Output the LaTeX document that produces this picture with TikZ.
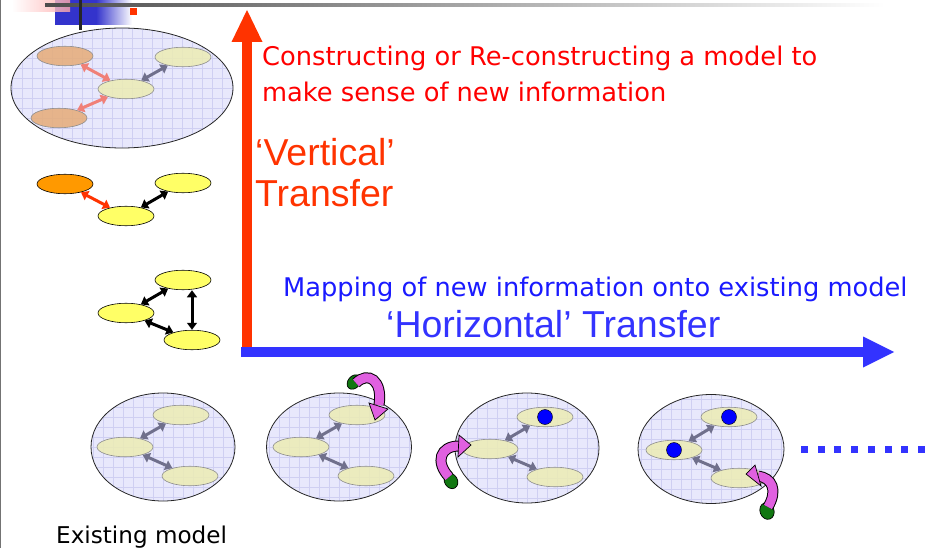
\documentclass[tikz,border=0pt]{standalone}
\usepackage{fontspec}
\usetikzlibrary{shapes.geometric,arrows.meta,calc}
\newfontfamily\tah{DejaVu Sans}
\newfontfamily\ari{Liberation Sans}
\definecolor{lav}{HTML}{E8E8FC}
\definecolor{gridc}{HTML}{CFCFF2}
\definecolor{yelf}{HTML}{ECECB4}
\definecolor{orf}{HTML}{E6AC78}
\definecolor{yel}{HTML}{FFFF66}
\definecolor{ora}{HTML}{FF9900}
\definecolor{redarr}{HTML}{FF3300}
\definecolor{bluearr}{HTML}{3333FF}
\definecolor{txtred}{HTML}{FF0000}
\definecolor{txtblue}{HTML}{1A1AFF}
\definecolor{inarr}{HTML}{70708C}
\definecolor{pinkarr}{HTML}{F08078}
\definecolor{mag}{HTML}{E060E0}
\definecolor{grn}{HTML}{117711}
\definecolor{decoblue}{HTML}{3333CC}
\tikzset{
  model/.style={ellipse, draw=black!85, line width=0.8pt, fill=lav, inner sep=0pt, outer sep=0pt,
    path picture={\draw[gridc, line width=0.6pt] ([shift={(-10pt,-10pt)}]path picture bounding box.south west) grid[step=10pt] ([shift={(10pt,10pt)}]path picture bounding box.north east);}},
  inell/.style={ellipse, draw=black!45, line width=0.6pt, fill=yelf, fill opacity=0.85, draw opacity=1, minimum width=56pt, minimum height=19.5pt, inner sep=0pt, outer sep=0pt},
  solell/.style={ellipse, draw=black, line width=0.6pt, minimum width=56pt, minimum height=19.5pt, inner sep=0pt, outer sep=0pt},
  dbl/.style={{Triangle[length=7pt,width=10pt]}-{Triangle[length=7pt,width=10pt]}, line width=3pt, shorten >=0.5pt, shorten <=0.5pt},
  dot/.style={circle, fill=blue, draw=black, line width=0.4pt, minimum size=15pt, inner sep=0pt},
  tahtext/.style={inner sep=0pt, anchor=base west, font=\tah\fontsize{25.7}{30}\selectfont},
  aritext/.style={inner sep=0pt, anchor=base west, font=\ari\fontsize{37.5}{42}\selectfont},
  band/.style={line width=11pt, draw=black},
  bandin/.style={line width=9pt, draw=mag},
  headsh/.style={fill=mag, draw=black, line width=0.7pt, line join=miter},
  tailsh/.style={fill=grn, draw=black, line width=0.7pt}
}
\begin{document}
\begin{tikzpicture}[x=1pt,y=-1pt]
\useasboundingbox (0,0) rectangle (934,548);
\fill[white] (0,0) rectangle (934,548);
% decoration top-left
\fill[decoblue] (55,0) rectangle (96,25);
\shade[left color=decoblue, right color=white] (96,0) rectangle (132,25);
\shade[left color=white, right color=red!35, opacity=0.8] (12,0) rectangle (70,12);
\shade[left color=black!70, right color=white] (45,3.5) rectangle (885,6.5);
\fill[black!85] (78.5,0) rectangle (81.5,30);
\fill[redarr] (130,8) rectangle (137,15);
\draw[black!55, line width=1pt] (0.5,0) -- (0.5,548);

% top-left model
\node[model, minimum width=222pt, minimum height=120pt] (m0) at (122,88) {};
\node[inell, fill=orf] (m0a) at (65,56) {};
\node[inell] (m0b) at (183,57) {};
\node[inell] (m0c) at (126,89) {};
\node[inell, fill=orf] (m0d) at (59,118) {};
\draw[dbl, pinkarr] (m0a) -- (m0c);
\draw[dbl, pinkarr] (m0d) -- (m0c);
\draw[dbl, inarr] (m0c) -- (m0b);

% middle solid group
\node[solell, fill=ora] (s1a) at (65,184) {};
\node[solell, fill=yel] (s1b) at (183,183) {};
\node[solell, fill=yel] (s1c) at (126,216) {};
\draw[dbl, redarr] (s1a) -- (s1c);
\draw[dbl, black] (s1c) -- (s1b);

% lower solid group
\node[solell, fill=yel] (s2a) at (183,280) {};
\node[solell, fill=yel] (s2b) at (126,313) {};
\node[solell, fill=yel] (s2c) at (192,340) {};
\draw[dbl, black] (s2b) -- (s2a);
\draw[dbl, black] (s2b) -- (s2c);
\draw[dbl, black] (s2c.north) -- (s2c.north |- s2a.south);

% axes
\coordinate (origin) at (241,352);
\coordinate (vtip) at (247,10);
\coordinate (htip) at (894,352);
\fill[redarr] (241.5,42) rectangle (252,357);
\fill[redarr] (231.5,42) -- (vtip) -- (262.5,42) -- cycle;
\fill[bluearr] (241,347) rectangle (864,357);
\fill[bluearr] (863,336.5) -- (htip) -- (863,367.5) -- cycle;

% texts
\node[tahtext, text=txtred] (t1) at (262,66) {Constructing or Re-constructing a model to};
\node[tahtext, text=txtred] (t2) at (262,102) {make sense of new information};
\node[aritext, text=redarr] (t3) at (255,166) {‘Vertical’};
\node[aritext, text=redarr] (t4) at (255,207) {Transfer};
\node[tahtext, text=txtblue] (t5) at (283,296) {Mapping of new information onto existing model};
\node[aritext, text=bluearr] (t6) at (386,337) {‘Horizontal’ Transfer};
\node[tahtext, text=black, font=\tah\fontsize{23.1}{28}\selectfont] (t7) at (56,543) {Existing model};

% bottom row model 1
\node[model, minimum width=144pt, minimum height=108pt] (b1) at (163,447) {};
\node[inell] (b1a) at (181,415) {};
\node[inell] (b1b) at (125,447) {};
\node[inell] (b1c) at (190,476) {};
\draw[dbl, inarr] (b1b) -- (b1a);
\draw[dbl, inarr] (b1b) -- (b1c);

% model 2
\node[model, minimum width=145pt, minimum height=108pt] (b2) at (339,447) {};
\node[inell] (b2a) at (357,415) {};
\node[inell] (b2b) at (301,447) {};
\node[inell] (b2c) at (366,476) {};
\draw[dbl, inarr] (b2b) -- (b2a);
\draw[dbl, inarr] (b2b) -- (b2c);
\node[tailsh, ellipse, minimum width=12pt, minimum height=16pt, inner sep=0pt, rotate=-40] (g2) at (354,382) {};
\draw[band] (356,383) .. controls (368,371) and (383,380) .. (379,405);
\draw[bandin] (356,383) .. controls (368,371) and (383,380) .. (379,405);
\filldraw[headsh] (369,403) -- (375,420) -- (388,409) -- cycle;

% model 3
\node[model, minimum width=144pt, minimum height=110pt] (b3) at (527,448) {};
\node[inell] (b3a) at (545,417) {};
\node[inell] (b3b) at (490,449) {};
\node[inell] (b3c) at (555,477) {};
\draw[dbl, inarr] (b3b) -- (b3a);
\draw[dbl, inarr] (b3b) -- (b3c);
\node[dot] (d3a) at (545,417) {};
\node[tailsh, ellipse, minimum width=13pt, minimum height=16pt, inner sep=0pt, rotate=30] (g3) at (451,481) {};
\draw[band] (449,477) .. controls (435,462) and (440,446) .. (459,446);
\draw[bandin] (449,477) .. controls (435,462) and (440,446) .. (459,446);
\filldraw[headsh] (459,435) -- (471,445) -- (458,457) -- cycle;

% model 4
\node[model, minimum width=146pt, minimum height=109pt] (b4) at (711,449) {};
\node[inell] (b4a) at (729,417) {};
\node[inell] (b4b) at (674,450) {};
\node[inell] (b4c) at (739,478) {};
\draw[dbl, inarr] (b4b) -- (b4a);
\draw[dbl, inarr] (b4b) -- (b4c);
\node[dot] (d4a) at (729,417) {};
\node[dot] (d4b) at (674,450) {};
\node[tailsh, ellipse, minimum width=14pt, minimum height=17pt, inner sep=0pt, rotate=20] (g4) at (767,511) {};
\draw[band] (768,507) .. controls (778,490) and (772,478) .. (758,476);
\draw[bandin] (768,507) .. controls (778,490) and (772,478) .. (758,476);
\filldraw[headsh] (755,465) -- (746,474) -- (761,486) -- cycle;

% dotted continuation
\foreach \i in {0,...,8} {\fill[bluearr] ({801+16.7*\i},446) rectangle +(7,7);}
\end{tikzpicture}
\end{document}
